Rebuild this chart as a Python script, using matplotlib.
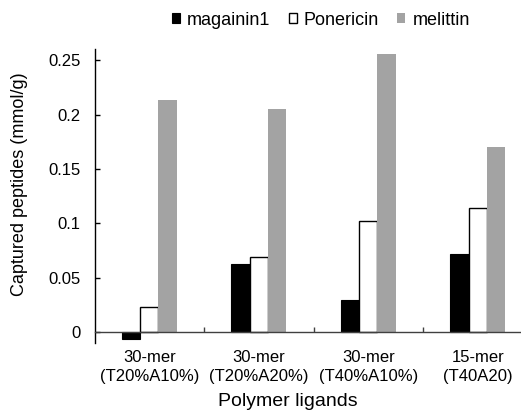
import matplotlib
matplotlib.use("Agg")
import matplotlib.pyplot as plt
import numpy as np

plt.rcParams['font.family'] = ['Liberation Sans', 'DejaVu Sans']

categories = ["30-mer\n(T20%A10%)", "30-mer\n(T20%A20%)", "30-mer\n(T40%A10%)", "15-mer\n(T40A20)"]
magainin1 = [-0.006, 0.063, 0.030, 0.072]
ponericin = [0.023, 0.069, 0.102, 0.114]
melittin = [0.213, 0.205, 0.256, 0.170]
yticks = [0, 0.05, 0.1, 0.15, 0.2, 0.25]
ytick_labels = ["0", "0.05", "0.1", "0.15", "0.2", "0.25"]

fig = plt.figure(figsize=(5.21, 4.18), dpi=100)
ax = fig.add_axes([94.5 / 521, 1 - 343.2 / 418, 438 / 521, 294 / 418])

x = np.arange(len(categories))
w = 0.167
ax.bar(x - w, magainin1, w, color='black', edgecolor='black', linewidth=0.8, label='magainin1')
ax.bar(x, ponericin, w, color='white', edgecolor='black', linewidth=1.0, label='Ponericin')
ax.bar(x + w, melittin, w, color='#a3a3a3', edgecolor='none', label='melittin')

ax.set_xlim(-0.5, 3.5)
ax.set_ylim(-0.01, 0.26)

for s in ['top', 'right']:
    ax.spines[s].set_visible(False)
ax.spines['bottom'].set_position(('data', 0))
ax.spines['bottom'].set_color('#404040')
ax.spines['bottom'].set_linewidth(1.0)
ax.spines['left'].set_linewidth(1.0)

ax.set_yticks(yticks)
ax.set_yticklabels(ytick_labels, fontsize=12)
ax.tick_params(axis='y', direction='in', length=3.5, width=1, pad=10)

ax.set_xticks(x)
ax.set_xticklabels(categories, fontsize=12, linespacing=1.35)
ax.set_xticks(np.arange(len(categories)) + 0.5, minor=True)
ax.tick_params(axis='x', which='major', length=0, pad=12.5)
ax.tick_params(axis='x', which='minor', direction='in', length=3.5, width=1, color='#404040')

fig.text(288 / 521, 1 - 401.7 / 418, "Polymer ligands", fontsize=14, ha='center', va='center')
fig.text(20 / 521, 1 - 184 / 418, "Captured peptides (mmol/g)", fontsize=13,
         rotation=90, ha='center', va='center')

fig.legend(loc='center', bbox_to_anchor=(0.616, 0.952), ncol=3, frameon=False,
           fontsize=13, handlelength=0.45, handleheight=0.45, handletextpad=0.4,
           columnspacing=1.0, borderpad=0, borderaxespad=0)

fig.savefig("out.png", dpi=100)
